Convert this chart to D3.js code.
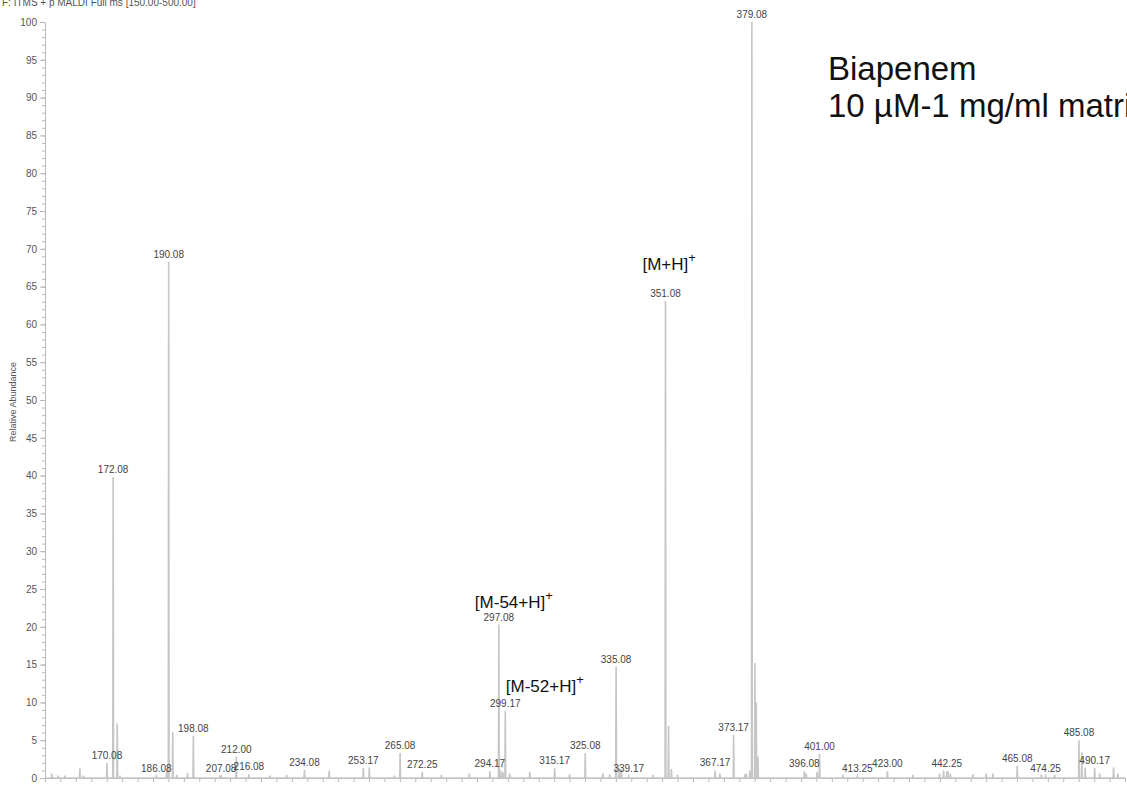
<!DOCTYPE html>
<html>
<head>
<meta charset="utf-8">
<script src="https://cdn.jsdelivr.net/npm/d3@7"></script>
<style>
  html, body { margin: 0; padding: 0; background: #fff; }
  svg { display: block; font-family: "Liberation Sans", Arial, sans-serif; }
</style>
</head>
<body>
<svg id="chart" width="1127" height="786"></svg>
<script>
// Labelled peaks: m/z and relative abundance (%)
const labelledMz = [170.08, 172.08, 186.08, 190.08, 198.08, 207.08, 212.00, 216.08, 234.08, 253.17,
  265.08, 272.25, 294.17, 297.08, 299.17, 315.17, 325.08, 335.08, 339.17, 351.08,
  367.17, 373.17, 379.08, 396.08, 401.00, 413.25, 423.00, 442.25, 465.08, 474.25,
  485.08, 490.17];
const labelledAbundance = [2.0, 39.8, 0.2, 68.3, 5.6, 0.2, 2.8, 0.5, 1.1, 1.3,
  3.3, 0.8, 0.9, 20.3, 8.9, 1.3, 3.3, 14.7, 0.2, 63.1,
  1.0, 5.7, 100, 0.9, 3.2, 0.2, 0.9, 0.9, 1.6, 0.2,
  5.0, 1.3];

// Unlabelled isotope / shoulder / minor peaks
const minorMz = [152.2, 154.3, 156.5, 161.3, 162.4, 173.4, 174.3, 189.4, 191.4, 192.7,
  196.2, 206.7, 222.9, 228.3, 242.1, 255.1, 263.2, 278.5, 287.5, 297.7,
  298.4, 300.6, 307.1, 320.0, 330.8, 333.0, 336.05, 336.8, 347.0, 352.08,
  353.0, 355.0, 368.7, 376.8, 377.3, 378.4, 380.08, 380.5, 381.06, 396.7,
  400.2, 408.6, 431.3, 439.9, 441.2, 442.6, 443.4, 450.7, 455.0, 457.2,
  472.9, 477.2, 486.0, 487.1, 491.8, 496.3, 497.7];
const minorAbundance = [0.6, 0.3, 0.3, 1.3, 0.3, 7.2, 0.3, 1.0, 6.1, 0.4,
  0.7, 0.3, 0.3, 0.4, 1.0, 1.4, 0.3, 0.4, 0.6, 1.0,
  0.8, 0.6, 0.8, 0.5, 0.6, 0.5, 1.4, 1.2, 0.4, 6.9,
  1.2, 0.4, 0.6, 0.5, 0.6, 1.0, 15.2, 10.0, 2.8, 0.6,
  0.8, 0.4, 0.4, 0.6, 1.0, 0.9, 0.6, 0.5, 0.6, 0.6,
  0.5, 0.4, 3.4, 1.4, 0.6, 1.4, 0.6];

// Ion annotations: attached peak m/z, ion text
const ionMz = [297.08, 299.17, 351.08];
const ionNames = ["[M-54+H]", "[M-52+H]", "[M+H]"];

const headerText = "F: ITMS + p MALDI Full ms [150.00-500.00]";
const titleLines = ["Biapenem", "10 µM-1 mg/ml matrix"];
const yTitle = "Relative Abundance";

const svg = d3.select("#chart");

const x = d3.scaleLinear().domain([150, 500]).range([45, 1125]);
const y = d3.scaleLinear().domain([0, 100]).range([778, 22]);

// Header line
svg.append("text")
  .attr("x", 2).attr("y", 6)
  .attr("font-size", 10).attr("fill", "#555")
  .text(headerText);

// Y axis: minor ticks every 1 %, major every 5 %
const yMinor = svg.append("g").attr("transform", "translate(45,0)")
  .call(d3.axisLeft(y).tickValues(d3.range(0, 101, 1)).tickSize(3).tickSizeOuter(0).tickFormat(""));
const yMajor = svg.append("g").attr("transform", "translate(45,0)")
  .call(d3.axisLeft(y).tickValues(d3.range(0, 101, 5)).tickSize(5).tickSizeOuter(0).tickPadding(3));
[yMinor, yMajor].forEach(g => {
  g.selectAll("line").attr("stroke", "#b8b8b8");
  g.select(".domain").attr("stroke", "#b8b8b8");
});
yMajor.selectAll("text").attr("font-size", 10).attr("fill", "#555")
  .attr("font-family", "Liberation Sans, Arial, sans-serif");

// X axis ticks every 5 m/z
const xAxis = svg.append("g").attr("transform", "translate(0,778)")
  .call(d3.axisBottom(x).tickValues(d3.range(150, 501, 5)).tickSize(4).tickSizeOuter(0).tickFormat(""));
xAxis.selectAll("line").attr("stroke", "#b8b8b8");
xAxis.select(".domain").attr("stroke", "#b8b8b8");

// Y axis title
svg.append("text")
  .attr("transform", "translate(16,402) rotate(-90)")
  .attr("text-anchor", "middle")
  .attr("font-size", 9).attr("fill", "#555")
  .text(yTitle);

// Spectrum trace: narrow peaks on a zero baseline
const peaks = labelledMz.map((m, i) => [m, labelledAbundance[i]])
  .concat(minorMz.map((m, i) => [m, minorAbundance[i]]))
  .sort((a, b) => a[0] - b[0]);
const halfWidth = 0.13;
const profile = [[150, 0]];
peaks.forEach(([m, v]) => {
  profile.push([m - halfWidth, 0], [m, v], [m + halfWidth, 0]);
});
profile.push([500, 0]);

svg.append("path")
  .datum(profile)
  .attr("fill", "none")
  .attr("stroke", "#c6c6c6")
  .attr("stroke-width", 1.6)
  .attr("stroke-linejoin", "miter")
  .attr("d", d3.line().x(d => x(d[0])).y(d => y(d[1])));

// Peak m/z labels
svg.append("g").selectAll("text")
  .data(labelledMz.map((m, i) => [m, labelledAbundance[i]]))
  .join("text")
  .attr("x", d => x(d[0]))
  .attr("y", d => y(d[1]) - 4)
  .attr("text-anchor", "middle")
  .attr("font-size", 10)
  .attr("fill", "#444")
  .text(d => d[0].toFixed(2));

// Ion annotations with superscript charge
const ionOffsets = [[-24, -17], [0.5, -19], [-23, -31]];
ionMz.forEach((m, i) => {
  const v = labelledAbundance[labelledMz.indexOf(m)];
  const t = svg.append("text")
    .attr("x", x(m) + ionOffsets[i][0])
    .attr("y", y(v) + ionOffsets[i][1])
    .attr("font-size", 17)
    .attr("fill", "#111");
  t.append("tspan").text(ionNames[i]);
  t.append("tspan").attr("dy", -8).attr("font-size", 13).text("+");
});

// Sample title
svg.append("g").selectAll("text")
  .data(titleLines)
  .join("text")
  .attr("x", 828)
  .attr("y", (d, i) => 80 + i * 37)
  .attr("font-size", 33)
  .attr("fill", "#111")
  .text(d => d);
</script>
</body>
</html>
